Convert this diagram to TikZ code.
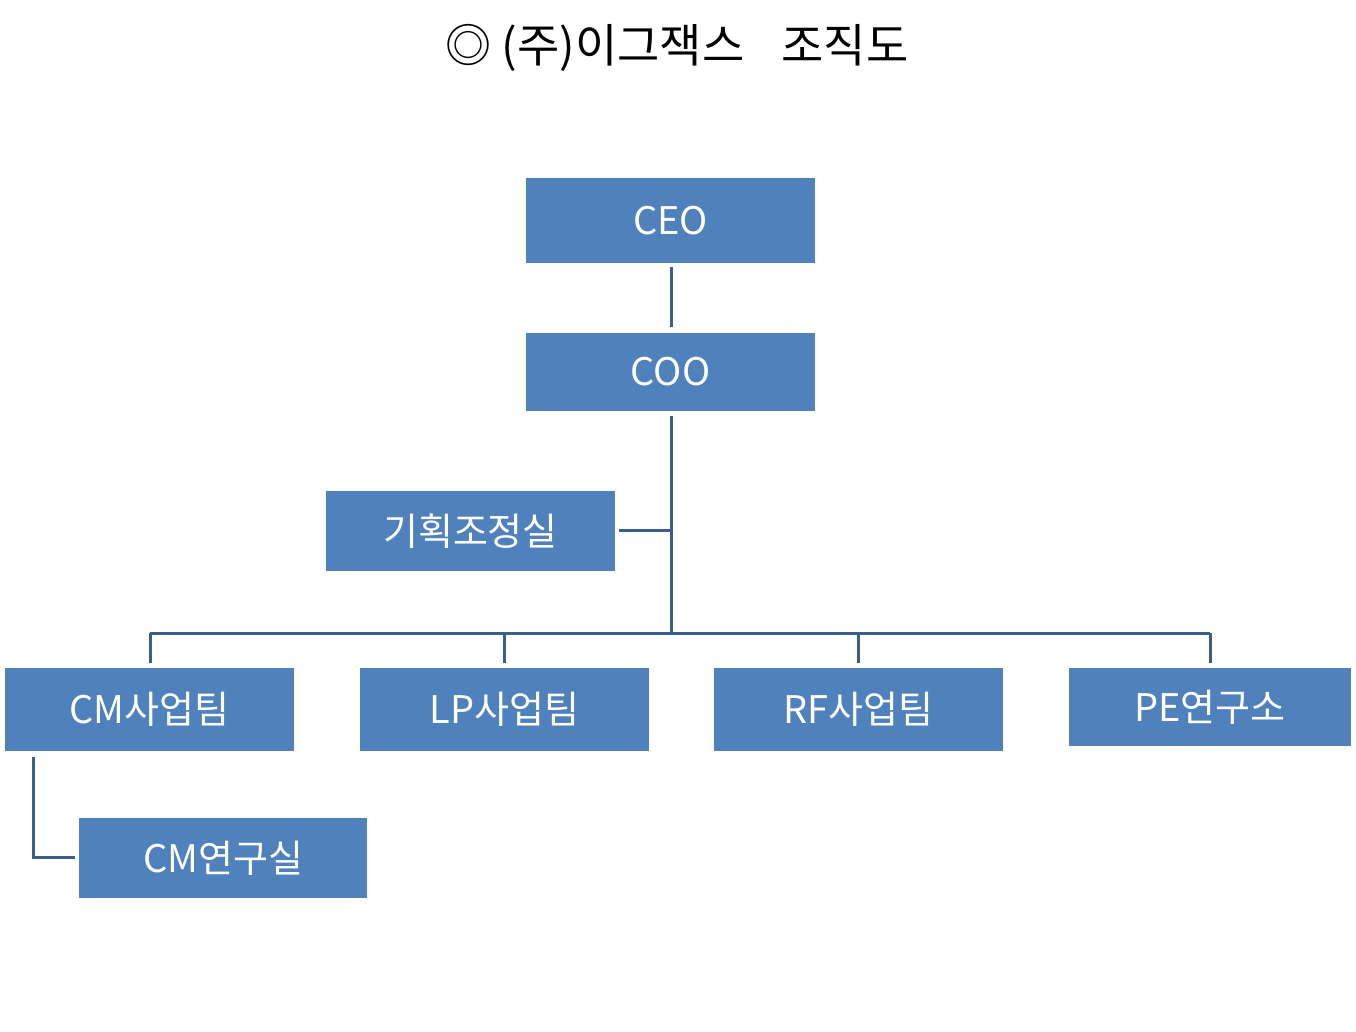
\documentclass[tikz,border=0pt]{standalone}
\usepackage{fontspec}
\setmainfont{Noto Sans CJK KR}
\begin{document}
\begin{tikzpicture}[x=1pt,y=-1pt,
  box/.style={fill=boxblue,draw=none,text=white,font=\fontsize{38}{40}\selectfont,inner sep=0pt},
  conn/.style={draw=lineblue,line width=3pt}]
\definecolor{boxblue}{HTML}{4F81BD}
\definecolor{lineblue}{HTML}{3A5F8E}
\useasboundingbox (0,0) rectangle (1356,1032);
\node[font=\fontsize{46}{48}\selectfont] (title) at (677,48) {◎ (주)이그잭스\hspace{0.8em}조직도};
\newcommand{\bx}[6]{\fill[boxblue] (#2,#3) rectangle (#4,#5); \node[box,minimum width={#4-#2},minimum height={#5-#3},fill=none] (#1) at ({(#2+#4)/2},{(#3+#5)/2}) {#6};}
\bx{ceo}{526}{178}{815}{263}{CEO}
\bx{coo}{526}{333}{815}{411}{COO}
\bx{plan}{326}{491}{615}{571}{기획조정실}
\bx{cm}{5}{668}{294}{751}{CM사업팀}
\bx{lp}{360}{668}{649}{751}{LP사업팀}
\bx{rf}{714}{668}{1003}{751}{RF사업팀}
\bx{pe}{1069}{668}{1351}{746}{PE연구소}
\bx{cmr}{79}{818}{367}{898}{CM연구실}
\coordinate (bus) at (671,633);
\coordinate (pj) at (671,530);
\coordinate (bl) at (150,633);
\coordinate (br) at (1210,633);
\coordinate (cmc) at (33,857);
\draw[conn] (671,267) -- (671,327);
\draw[conn] (671,416) -- (bus);
\draw[conn] (619,530) -- (pj);
\draw[conn] (bl) -- (br);
\draw[conn] (bl) -- (150,663);
\draw[conn] (504,633) -- (504,663);
\draw[conn] (858,633) -- (858,663);
\draw[conn] (br) -- (1210,663);
\draw[conn] (33,757) -- (cmc) -- (75,857);
\end{tikzpicture}
\end{document}
